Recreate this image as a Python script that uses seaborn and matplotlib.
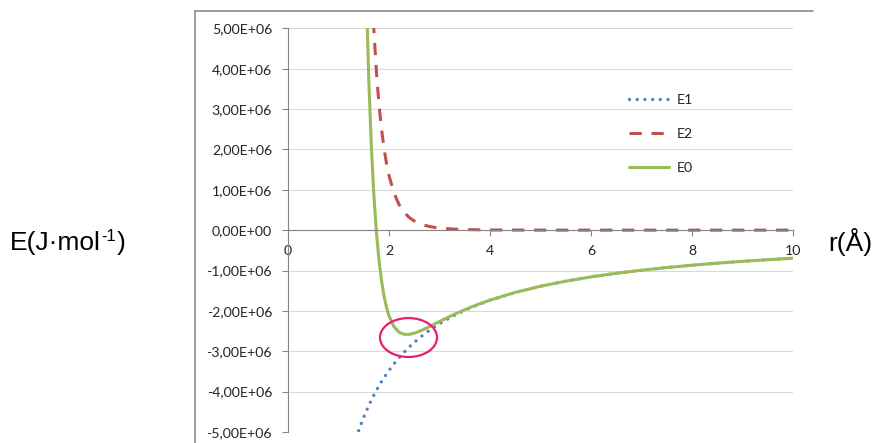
import matplotlib
matplotlib.use("Agg")
import matplotlib.pyplot as plt
from matplotlib.lines import Line2D
from matplotlib.patches import Ellipse
from matplotlib.ticker import FuncFormatter
import numpy as np
import pandas as pd
import seaborn as sns

# Interionic distance (Å) and energies (10^6 J/mol)
r = [1.35, 1.4, 1.45, 1.5, 1.55, 1.6, 1.65, 1.7, 1.75, 1.8, 1.85, 1.9, 1.95,
     2.0, 2.1, 2.2, 2.3, 2.4, 2.5, 2.6, 2.7, 2.8, 2.9, 3.0,
     3.25, 3.5, 3.75, 4.0,
     4.5, 5.0, 5.5, 6.0, 6.5, 7.0, 7.5, 8.0, 8.5, 9.0, 9.5, 10.0]

# attraction term
E1 = [-5.148, -4.964, -4.793, -4.633, -4.484, -4.344, -4.212, -4.088, -3.971, -3.861, -3.757, -3.658, -3.564,
      -3.475, -3.310, -3.159, -3.022, -2.896, -2.780, -2.673, -2.574, -2.482, -2.397, -2.317,
      -2.138, -1.986, -1.853, -1.738,
      -1.544, -1.390, -1.264, -1.158, -1.069, -0.993, -0.927, -0.869, -0.818, -0.772, -0.732, -0.695]

# repulsion term
E2 = [31.36, 23.44, 17.71, 13.50, 10.38, 8.056, 6.298, 4.960, 3.934, 3.140, 2.522, 2.037, 1.655,
      1.352, 0.915, 0.630, 0.442, 0.314, 0.227, 0.166, 0.123, 0.092, 0.069, 0.053,
      0.028, 0.015, 0.009, 0.005,
      0.0021, 0.0009, 0.0004, 0.0002, 0.0001, 0.0001, 0.0, 0.0, 0.0, 0.0, 0.0, 0.0]

# total energy
E0 = [26.21, 18.48, 12.92, 8.867, 5.896, 3.712, 2.086, 0.872, -0.037, -0.721, -1.235, -1.621, -1.909,
      -2.123, -2.395, -2.529, -2.580, -2.582, -2.553, -2.507, -2.451, -2.390, -2.328, -2.264,
      -2.110, -1.971, -1.844, -1.733,
      -1.542, -1.389, -1.264, -1.158, -1.069, -0.993, -0.927, -0.869, -0.818, -0.772, -0.732, -0.695]

series_names = ["E1", "E2", "E0"]
x_ticks = [0, 2, 4, 6, 8, 10]
y_ticks = [-5e6, -4e6, -3e6, -2e6, -1e6, 0, 1e6, 2e6, 3e6, 4e6, 5e6]

df = pd.DataFrame({"r": r,
                   "E1": np.array(E1) * 1e6,
                   "E2": np.array(E2) * 1e6,
                   "E0": np.array(E0) * 1e6})

sns.set_theme(style="white")
plt.rcParams["font.family"] = ["Lato", "DejaVu Sans"]

W, H = 873, 443
fig = plt.figure(figsize=(W / 100, H / 100), dpi=100)
ax = fig.add_axes([288 / W, 1 - 432 / H, 505 / W, 403.7 / H])

styles = {
    "E1": dict(color="#4F81BD", linewidth=2.4, linestyle=(0, (0.01, 2.3)),
               dash_capstyle="round"),
    "E2": dict(color="#C0504D", linewidth=2.2, linestyle=(0, (4.0, 3.2))),
    "E0": dict(color="#9BBB59", linewidth=2.2),
}
for name in series_names:
    sns.lineplot(data=df, x="r", y=name, ax=ax, label=name, sort=False,
                 estimator=None, **styles[name])

ax.set_xlim(0, 10)
ax.set_ylim(-5e6, 5e6)
ax.set_xticks(x_ticks)
ax.set_yticks(y_ticks)
ax.yaxis.set_major_formatter(FuncFormatter(lambda v, _: f"{v:.2E}".replace(".", ",")))
ax.xaxis.set_major_formatter(FuncFormatter(lambda v, _: f"{v:g}"))
ax.set_xlabel("")
ax.set_ylabel("")

axis_grey = "#868686"
ax.spines["top"].set_visible(False)
ax.spines["right"].set_visible(False)
ax.spines["left"].set_color(axis_grey)
ax.spines["left"].set_linewidth(0.8)
ax.spines["bottom"].set_position(("data", 0))
ax.spines["bottom"].set_color(axis_grey)
ax.spines["bottom"].set_linewidth(0.8)
ax.set_axisbelow(True)
ax.yaxis.grid(True, color="#D9D9D9", linewidth=0.8)
ax.xaxis.grid(False)

tick_fs = 10.2
ax.tick_params(axis="both", direction="out", length=4.5, width=0.8, color=axis_grey,
               labelsize=tick_fs, labelcolor="#262626")
ax.tick_params(axis="y", pad=7, left=True)
ax.tick_params(axis="x", pad=6, bottom=True)

# highlight around the energy minimum
ax.add_patch(Ellipse((2.386, -2.66e6), width=1.13, height=0.965e6, fill=False,
                     edgecolor="#EB1E6E", linewidth=1.6, zorder=6))

leg = ax.legend(loc="upper left", bbox_to_anchor=(629 / W, 1 - 94 / H),
                bbox_transform=fig.transFigure, frameon=False, fontsize=tick_fs,
                handlelength=2.85, handletextpad=0.55, labelspacing=1.56,
                borderpad=0, borderaxespad=0)
for t in leg.get_texts():
    t.set_color("#262626")

# chart frame (top and left edges)
frame_kw = dict(transform=fig.transFigure, color="#8C8C8C", linewidth=1.2)
fig.add_artist(Line2D([195 / W, 813 / W], [1 - 11 / H, 1 - 11 / H], **frame_kw))
fig.add_artist(Line2D([195 / W, 195 / W], [1 - 11 / H, 0], **frame_kw))

# axis titles: "E(J·mol" + raised "-1" + ")"
label_kw = dict(fontsize=19, family="Liberation Sans", color="black", va="baseline")
base_y = 1 - 250 / H
renderer = fig.canvas.get_renderer()
t_main = fig.text(10 / W, base_y, "E(J·mol", **label_kw)
x_px = t_main.get_window_extent(renderer).x1 + 0.5
t_sup = fig.text(x_px / W, base_y + 9 / H, "-1",
                 **{**label_kw, "fontsize": 12})
x_px = t_sup.get_window_extent(renderer).x1 + 0.5
fig.text(x_px / W, base_y, ")", **label_kw)
fig.text(828 / W, 1 - 251 / H, "r(Å)", **label_kw)

fig.savefig("out.png", dpi=100)
